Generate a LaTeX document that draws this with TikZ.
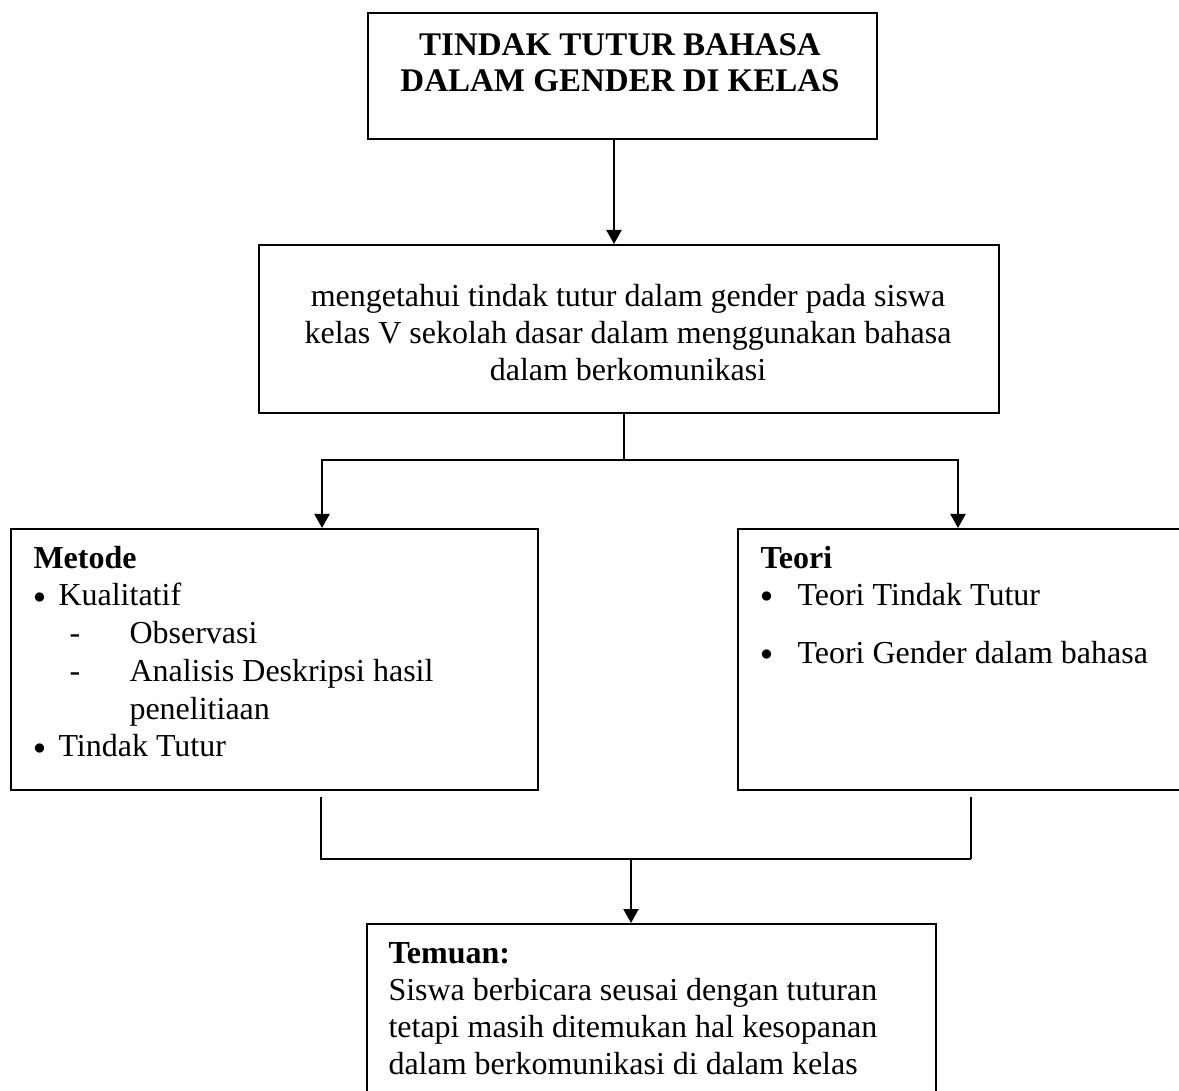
\documentclass[tikz,border=0pt]{standalone}
\usepackage{fontspec}
\setmainfont{Liberation Serif}
\usetikzlibrary{arrows.meta,fit,positioning}

\newcommand{\titik}{\raisebox{1pt}{\scalebox{0.8}{$\bullet$}}}

\begin{document}
\begin{tikzpicture}[x=0.4pt, y=-0.4pt,
    kotak/.style={draw, line width=0.8pt, inner sep=0pt},
    teks/.style={inner sep=0pt, font=\fontsize{12.8}{14.8}\selectfont},
    garis/.style={line width=0.8pt},
    panah/.style={line width=0.8pt, -{Triangle[width=6pt,length=5.6pt]}}]
    \clip (0,0) rectangle (1179,1091);

    % Judul
    \node[kotak, fit={(368,13) (877,139)}] (judul) {};
    \node[teks, anchor=base] (judulteks) at (620,56)
        {\parbox[t]{220pt}{\centering\fontsize{13.2}{14.4}\selectfont\bfseries
        TINDAK TUTUR BAHASA\\ DALAM GENDER DI KELAS}};

    % Tujuan
    \node[kotak, fit={(259,245) (999,413)}] (tujuan) {};
    \node[teks, anchor=base] (tujuanteks) at (628,307)
        {\parbox[t]{290pt}{\centering
        mengetahui tindak tutur dalam gender pada siswa\\
        kelas V sekolah dasar dalam menggunakan bahasa\\
        dalam berkomunikasi}};

    % Metode
    \node[kotak, fit={(11,529) (538,790)}] (metode) {};
    \node[teks, anchor=base west] (metodeteks) at (33,568)
        {\parbox[t]{200pt}{\raggedright\baselineskip=15.1pt
        \textbf{Metode}\\
        \makebox[10pt][l]{\titik}Kualitatif\\
        \hspace*{14.4pt}\makebox[24pt][l]{-}Observasi\\
        \hspace*{14.4pt}\makebox[24pt][l]{-}Analisis Deskripsi hasil\\
        \hspace*{38.4pt}penelitiaan\\
        \makebox[10pt][l]{\titik}Tindak Tutur}};

    % Teori
    \node[kotak, fit={(738,529) (1195,790)}] (teori) {};
    \node[teks, anchor=base west] (teoriteks) at (760,568)
        {\parbox[t]{200pt}{\raggedright
        \textbf{Teori}\\
        \makebox[14.8pt][l]{\titik}Teori Tindak Tutur\\[8.4pt]
        \makebox[14.8pt][l]{\titik}Teori Gender dalam bahasa}};

    % Temuan
    \node[kotak, fit={(367,924) (936,1110)}] (temuan) {};
    \node[teks, anchor=base west] (temuanteks) at (388,963)
        {\parbox[t]{220pt}{\raggedright
        \textbf{Temuan:}\\
        Siswa berbicara seusai dengan tuturan\\
        tetapi masih ditemukan hal kesopanan\\
        dalam berkomunikasi di dalam kelas}};

    % Panah dan garis
    \coordinate (p1) at (614,0);
    \coordinate (cabang) at (624,460);
    \coordinate (ka) at (322,460);
    \coordinate (kb) at (958,460);
    \coordinate (kc) at (321,859);
    \coordinate (kd) at (971,859);
    \coordinate (gabung) at (631,859);

    \draw[panah] (judul.south -| p1) -- (tujuan.north -| p1);
    \draw[garis] (tujuan.south -| cabang) -- (cabang);
    \draw[panah] (cabang) -| (ka |- metode.north);
    \draw[panah] (cabang) -| (kb |- teori.north);
    \draw[garis, shorten <=2.4pt] (metode.south -| kc) -- (kc) -- (kd);
    \draw[garis, shorten <=2.4pt] (teori.south -| kd) -- (kd);
    \draw[panah] (gabung) -- (temuan.north -| gabung);
\end{tikzpicture}
\end{document}
